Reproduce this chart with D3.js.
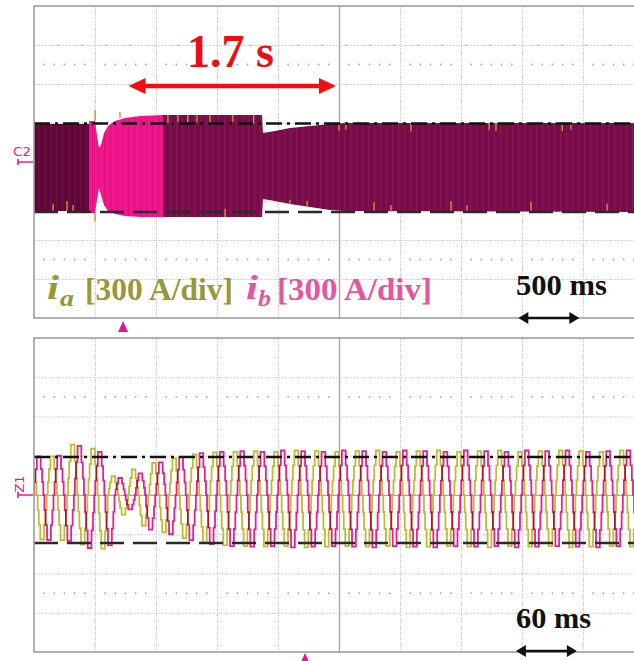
<!DOCTYPE html>
<html>
<head>
<meta charset="utf-8">
<script src="https://cdn.jsdelivr.net/npm/d3@7"></script>
<style>
  html, body { margin: 0; padding: 0; background: #fff; }
  svg { display: block; }
</style>
</head>
<body>
<svg id="chart" width="634" height="661"></svg>
<script>
// ---------------- data ----------------
// Overview capture (500 ms/div): envelope of the phase-current band, in A
const overviewTime  = [0, 0.451, 0.451, 0.50, 0.516, 0.533, 0.549, 0.574, 0.607, 0.664, 0.746, 0.869, 1.057, 1.869, 1.877, 1.975, 2.098, 2.262, 2.426, 2.549, 5.0];
const overviewUpper = [292, 292, 315, 315, 208, 108, 131, 223, 277, 315, 338, 354, 361, 361, 223, 238, 261, 277, 292, 300, 300];
const overviewLower = [-377, -377, -392, -392, -292, -200, -254, -331, -377, -400, -415, -423, -423, -423, -285, -300, -323, -346, -369, -377, -385];

// which trace dominates the band in each interval (s)
const zoneStart = [0, 0.451, 1.057];
const zoneEnd   = [0.451, 1.057, 5.0];
const zoneKind  = ["dense", "ib", "both"];

// short glitches along the band edges: time (s), from (A), to (A)
const spikeTime = [0.50, 0.705, 1.098, 1.18, 1.26, 1.336, 1.443, 1.63, 1.80, 2.5, 2.557, 3.09, 3.73, 3.787, 4.33, 4.40,
                   0.156, 0.27, 0.32, 0.50, 1.566, 2.098, 2.238, 2.787, 2.926, 3.418, 3.549, 4.074, 4.697];
const spikeFrom = [315, 338, 361, 361, 361, 361, 361, 361, 361, 300, 300, 300, 300, 300, 300, 300,
                   -377, -377, -377, -392, -423, -323, -346, -385, -385, -385, -385, -385, -385];
const spikeTo   = [400, 385, 300, 310, 295, 305, 300, 310, 295, 240, 250, 235, 245, 240, 238, 250,
                   -320, -300, -330, -460, -360, -290, -300, -310, -330, -300, -330, -305, -320];

// Zoomed capture (60 ms/div): positive / negative peak of every cycle, in A
const ibPeakPos = [295, 300, 375, 330, 130, 165, 250, 290, 320, 330, 335, 330, 340, 335, 330, 340, 335, 330, 340, 335, 330, 340, 335, 330, 340, 335, 340, 330, 335, 340, 335];
const ibPeakNeg = [-345, -350, -405, -385, -110, -265, -300, -345, -375, -390, -395, -390, -400, -395, -390, -395, -400, -390, -395, -400, -390, -395, -390, -400, -395, -390, -395, -400, -390, -395, -390];
const iaPeakPos = [290, 295, 385, 355, 145, 195, 245, 280, 310, 325, 330, 335, 330, 340, 335, 330, 335, 340, 330, 335, 340, 330, 335, 340, 330, 335, 340, 335, 330, 340, 335];
const iaPeakNeg = [-340, -345, -380, -410, -150, -235, -285, -330, -365, -385, -390, -395, -390, -400, -395, -390, -395, -390, -400, -395, -390, -395, -400, -390, -395, -390, -400, -395, -390, -395, -390];
const ibFirstPeakMs = 4.7;   // first positive ib peak
const iaLeadMs = 6.67;       // ia leads ib by 120 degrees at 50 Hz
const periodMs = 20;
const stepsPerHalf = 3;      // staircase levels per half wave

// reference levels (A) and markers
const overviewRefs = [296, -385];
const zoomRefs = [290, -367];
const overviewTrigger = 0.73;   // s
const zoomTrigger = 266.6;      // ms
const spanStart = 0.775, spanLength = 1.7;   // s
const overviewScaleBar = [3.97, 0.5];        // s
const zoomScaleBar = [474, 60];              // ms

// ---------------- drawing ----------------
const svg = d3.select("#chart");
const defs = svg.append("defs");
const serif = "'Liberation Serif', 'Times New Roman', serif";

const xTop = d3.scaleLinear().domain([0, 5]).range([34, 644]);
const yTop = d3.scaleLinear().domain([-1200, 1200]).range([318, 6]);
const xBot = d3.scaleLinear().domain([0, 600]).range([34, 644]);
const yBot = d3.scaleLinear().domain([-1200, 1200]).range([652, 338]);

function drawGrid(g, x, y) {
  const [xa, xb] = x.domain(), [ya, yb] = y.domain();
  const [left, right] = x.range(), [bottom, top] = y.range();
  const xMid = (xa + xb) / 2, yMid = (ya + yb) / 2;
  const xs = d3.range(1, 10).map(i => xa + (xb - xa) * i / 10);
  const ys = d3.range(1, 8).map(i => ya + (yb - ya) * i / 8);

  const gx = g.append("g").attr("transform", `translate(0,${bottom})`)
    .call(d3.axisBottom(x).tickValues(xs).tickSize(-(bottom - top)).tickFormat(""));
  gx.select(".domain").remove();
  gx.selectAll(".tick line")
    .attr("stroke", d => Math.abs(d - xMid) < 1e-9 ? "#a6a6a6" : "#bdbdbd")
    .attr("stroke-width", d => Math.abs(d - xMid) < 1e-9 ? 1.4 : 1)
    .attr("stroke-dasharray", d => Math.abs(d - xMid) < 1e-9 ? null : "1,1.4");

  const gy = g.append("g").attr("transform", `translate(${left},0)`)
    .call(d3.axisLeft(y).tickValues(ys).tickSize(-(right - left)).tickFormat(""));
  gy.select(".domain").remove();
  gy.selectAll(".tick line")
    .attr("stroke", d => Math.abs(d - yMid) < 1e-9 ? "#a6a6a6" : "#bdbdbd")
    .attr("stroke-width", d => Math.abs(d - yMid) < 1e-9 ? 1.2 : 1)
    .attr("stroke-dasharray", d => Math.abs(d - yMid) < 1e-9 ? null : "1,1.4");

  // sub-division dot rows at +/- 2.5 div
  const rows = [ya + (yb - ya) * 1.5 / 8, ya + (yb - ya) * 6.5 / 8];
  const cols = d3.range(0, 10).flatMap(i => d3.range(1, 6).map(j => xa + (xb - xa) * (i + j / 6) / 10));
  g.append("g").selectAll("circle").data(d3.cross(rows, cols)).join("circle")
    .attr("cx", d => x(d[1])).attr("cy", d => y(d[0])).attr("r", 0.9).attr("fill", "#aaaaaa");
}

function drawBorder(g, x, y) {
  const [left, right] = x.range(), [bottom, top] = y.range();
  g.append("rect").attr("x", left).attr("y", top).attr("width", right - left).attr("height", bottom - top)
    .attr("fill", "none").attr("stroke", "#9e9e9e").attr("stroke-width", 1.6);
}

function drawRefs(g, x, y, refs) {
  const [left, right] = x.range();
  g.selectAll(null).data(refs).join("line")
    .attr("x1", left).attr("x2", right)
    .attr("y1", d => y(d)).attr("y2", d => y(d))
    .attr("stroke", (d, i) => i === 0 ? "#111" : "#2a2a2a")
    .attr("stroke-width", 2.6)
    .attr("stroke-dasharray", (d, i) => i === 0 ? "16,5,3,5" : "24,9");
}

function drawArrow(g, xa, xb, yy, color, headLen, headHalf, shaft) {
  g.append("line").attr("x1", xa + headLen - 1).attr("x2", xb - headLen + 1).attr("y1", yy).attr("y2", yy)
    .attr("stroke", color).attr("stroke-width", shaft);
  g.append("path").attr("fill", color)
    .attr("d", `M${xa},${yy} L${xa + headLen},${yy - headHalf} L${xa + headLen},${yy + headHalf} Z`);
  g.append("path").attr("fill", color)
    .attr("d", `M${xb},${yy} L${xb - headLen},${yy - headHalf} L${xb - headLen},${yy + headHalf} Z`);
}

function trigger(g, xx, tipY, baseY) {
  g.append("path").attr("fill", "#e3178a")
    .attr("d", `M${xx},${tipY} L${xx - 5},${baseY} L${xx + 5},${baseY} Z`);
}

// band textures
const textures = { dense: ["#5e0737", "#6f0e42"], ib: ["#f0168c", "#e30f82"], both: ["#760c48", "#881554"] };
Object.entries(textures).forEach(([k, [base, stripe]]) => {
  const p = defs.append("pattern").attr("id", "tex-" + k).attr("patternUnits", "userSpaceOnUse")
    .attr("width", 6).attr("height", 12);
  p.append("rect").attr("width", 6).attr("height", 12).attr("fill", base);
  p.append("rect").attr("x", 2).attr("width", 1.3).attr("height", 12).attr("fill", stripe);
});

// ---------- overview panel ----------
const gTop = svg.append("g");
drawGrid(gTop, xTop, yTop);

const envelope = overviewTime.map((t, i) => ({ t, hi: overviewUpper[i], lo: overviewLower[i] }));
const band = d3.area().x(d => xTop(d.t)).y0(d => yTop(d.lo)).y1(d => yTop(d.hi));
zoneKind.forEach((k, i) => {
  const id = "zone-" + i;
  defs.append("clipPath").attr("id", id).append("rect")
    .attr("x", xTop(zoneStart[i])).attr("width", xTop(zoneEnd[i]) - xTop(zoneStart[i]))
    .attr("y", 0).attr("height", 661);
  gTop.append("path").datum(envelope).attr("d", band)
    .attr("fill", `url(#tex-${k})`).attr("clip-path", `url(#${id})`);
});

gTop.append("g").selectAll("line").data(spikeTime).join("line")
  .attr("x1", d => xTop(d)).attr("x2", d => xTop(d))
  .attr("y1", (d, i) => yTop(spikeFrom[i])).attr("y2", (d, i) => yTop(spikeTo[i]))
  .attr("stroke", "#c0983c").attr("stroke-width", 1.4);

drawRefs(gTop, xTop, yTop, overviewRefs);
drawBorder(gTop, xTop, yTop);

// channel marker
gTop.append("text").attr("x", 13).attr("y", 156).attr("font-family", "'DejaVu Sans', sans-serif")
  .attr("font-size", 13).attr("fill", "#e0208c").attr("textLength", 18).attr("lengthAdjust", "spacingAndGlyphs").text("C2");
gTop.append("path").attr("d", "M18,159 L18,165 M18,162 L33,162").attr("stroke", "#e0208c").attr("stroke-width", 1.6).attr("fill", "none");

// 1.7 s annotation
drawArrow(gTop, xTop(spanStart), xTop(spanStart + spanLength), 86, "#ee1010", 17, 8, 4.5);
gTop.append("text").attr("x", 187).attr("y", 67).attr("font-family", serif).attr("font-weight", "bold")
  .attr("font-size", 46).attr("fill", "#e81010").text("1.7 s");

// legend
const olive = "#989838", pinkTxt = "#e2579f";
function legendText(xx, yy, txt, color, size, opts = {}) {
  const t = gTop.append("text").attr("x", xx).attr("y", yy).attr("font-family", serif)
    .attr("font-weight", "bold").attr("font-size", size).attr("fill", color).text(txt);
  if (opts.italic) t.attr("font-style", "italic");
  if (opts.len) t.attr("textLength", opts.len).attr("lengthAdjust", "spacingAndGlyphs");
  return t;
}
legendText(47, 299, "i", olive, 33, { italic: true, len: 12 });
legendText(60, 306, "a", olive, 23, { italic: true, len: 14 });
legendText(85, 300, "[300 A/div]", olive, 31, { len: 148 });
legendText(246, 299, "i", pinkTxt, 33, { italic: true, len: 12 });
legendText(258, 306, "b", pinkTxt, 23, { italic: true, len: 13 });
legendText(277, 300, "[300 A/div]", pinkTxt, 31, { len: 155 });

// time scale bar
legendText(516, 295, "500 ms", "#111", 29, { len: 91 });
drawArrow(gTop, xTop(overviewScaleBar[0]), xTop(overviewScaleBar[0] + overviewScaleBar[1]), 318, "#111", 10, 6, 2.6);
trigger(gTop, xTop(overviewTrigger), 321, 332);

// ---------- zoomed panel ----------
const gBot = svg.append("g");
drawGrid(gBot, xBot, yBot);

defs.append("clipPath").attr("id", "zoom-clip").append("rect")
  .attr("x", 34).attr("y", 338).attr("width", 610).attr("height", 314);

function phaseCurrent(t, firstPeak, pos, neg) {
  const rel = t - firstPeak + periodMs / 4;
  const k = Math.floor(rel / periodMs);
  const ph = rel / periodMs - k;
  const q = Math.round(Math.sin(2 * Math.PI * ph) * stepsPerHalf) / stepsPerHalf;
  const idx = Math.max(0, Math.min(pos.length - 1, k));
  return q >= 0 ? q * pos[idx] : -q * neg[idx];
}
const samples = d3.range(0, 600.001, 0.05);
const iaData = samples.map(t => ({ t, v: phaseCurrent(t, ibFirstPeakMs - iaLeadMs, iaPeakPos, iaPeakNeg) }));
const ibData = samples.map(t => ({ t, v: phaseCurrent(t, ibFirstPeakMs, ibPeakPos, ibPeakNeg) }));
const trace = d3.line().x(d => xBot(d.t)).y(d => yBot(d.v));

const traces = gBot.append("g").attr("clip-path", "url(#zoom-clip)");
traces.append("path").datum(iaData).attr("d", trace).attr("fill", "none")
  .attr("stroke", "#bcbc36").attr("stroke-width", 1.8);
traces.append("path").datum(ibData).attr("d", trace).attr("fill", "none")
  .attr("stroke", "#e2218d").attr("stroke-width", 1.8).style("mix-blend-mode", "multiply");

drawRefs(gBot, xBot, yBot, zoomRefs);
drawBorder(gBot, xBot, yBot);

gBot.append("text").attr("transform", "translate(24,484) rotate(-90)").attr("text-anchor", "middle")
  .attr("font-family", "'DejaVu Sans', sans-serif").attr("font-size", 13).attr("fill", "#e0208c").text("Z1");
gBot.append("path").attr("d", "M18,492 L18,498 M18,495 L33,495").attr("stroke", "#e0208c").attr("stroke-width", 1.6).attr("fill", "none");

gBot.append("text").attr("x", 516).attr("y", 628).attr("font-family", serif).attr("font-weight", "bold")
  .attr("font-size", 29).attr("fill", "#111").attr("textLength", 75).attr("lengthAdjust", "spacingAndGlyphs").text("60 ms");
drawArrow(gBot, xBot(zoomScaleBar[0]), xBot(zoomScaleBar[0] + zoomScaleBar[1]), 651, "#111", 10, 6, 2.6);
trigger(gBot, xBot(zoomTrigger), 653, 664);
</script>
</body>
</html>
